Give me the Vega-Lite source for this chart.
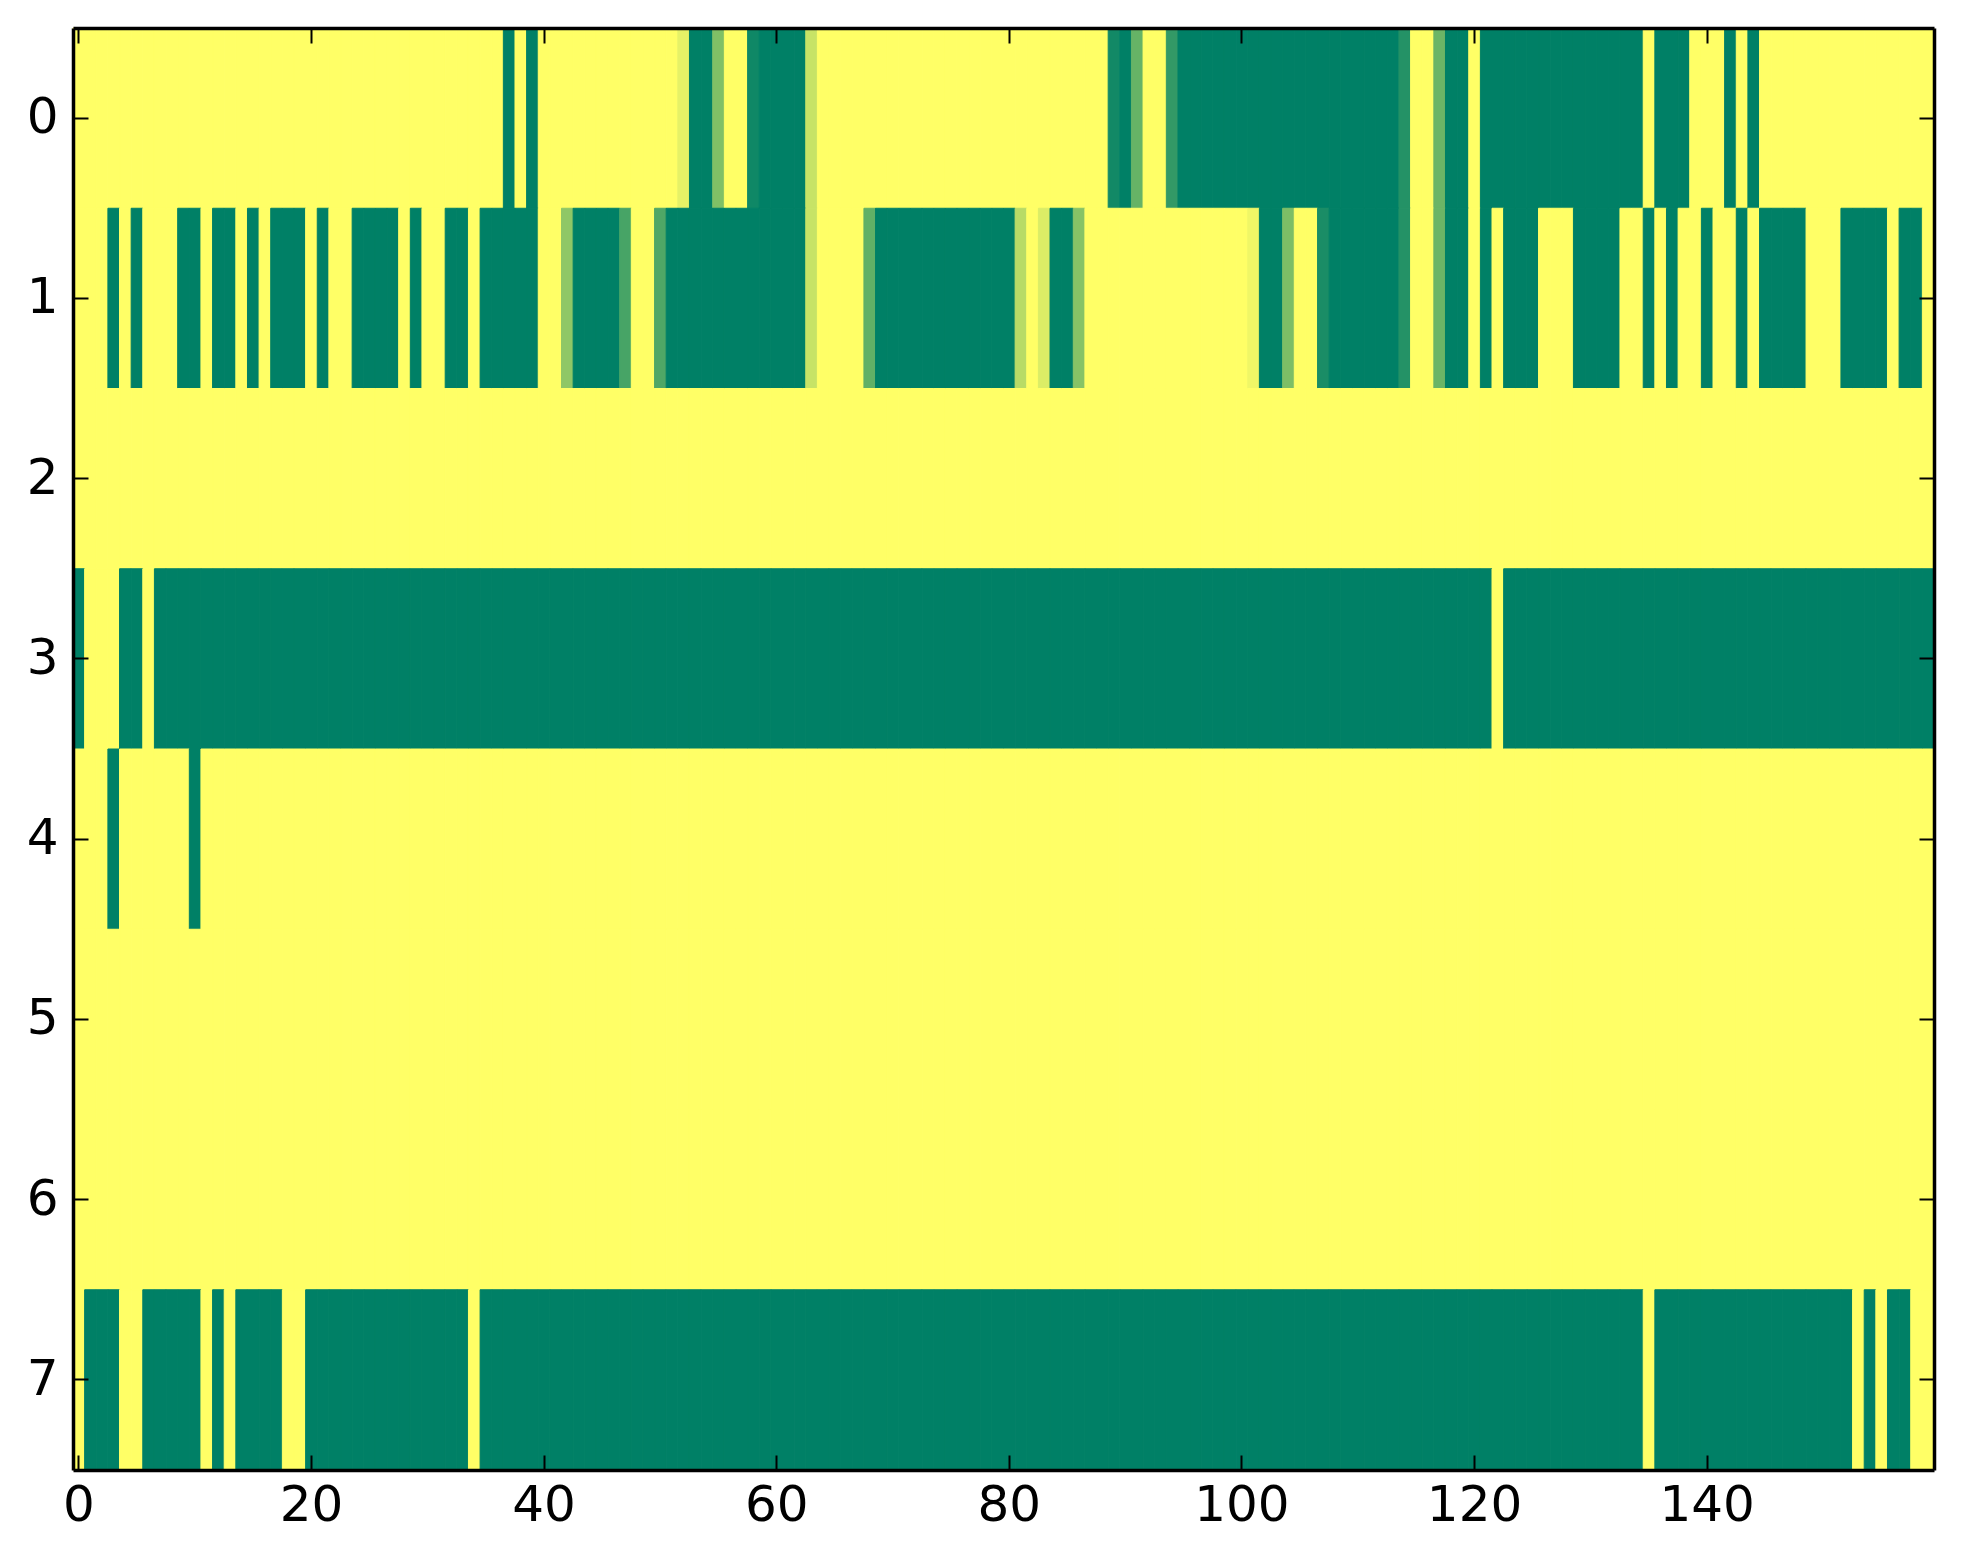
{
"$schema": "https://vega.github.io/schema/vega-lite/v6.json",
"width": 1861, "height": 1442,
"autosize": "none",
"padding": {"left": 73, "top": 28, "right": 29, "bottom": 94},
"background": "white",
"data": {"values": [
{"r":0,"c":0,"v":0},{"r":0,"c":1,"v":0},{"r":0,"c":2,"v":0},{"r":0,"c":3,"v":0},{"r":0,"c":4,"v":0},{"r":0,"c":5,"v":0},{"r":0,"c":6,"v":0},{"r":0,"c":7,"v":0},{"r":0,"c":8,"v":0},{"r":0,"c":9,"v":0},
{"r":0,"c":10,"v":0},{"r":0,"c":11,"v":0},{"r":0,"c":12,"v":0},{"r":0,"c":13,"v":0},{"r":0,"c":14,"v":0},{"r":0,"c":15,"v":0},{"r":0,"c":16,"v":0},{"r":0,"c":17,"v":0},{"r":0,"c":18,"v":0},{"r":0,"c":19,"v":0},
{"r":0,"c":20,"v":0},{"r":0,"c":21,"v":0},{"r":0,"c":22,"v":0},{"r":0,"c":23,"v":0},{"r":0,"c":24,"v":0},{"r":0,"c":25,"v":0},{"r":0,"c":26,"v":0},{"r":0,"c":27,"v":0},{"r":0,"c":28,"v":0},{"r":0,"c":29,"v":0},
{"r":0,"c":30,"v":0},{"r":0,"c":31,"v":0},{"r":0,"c":32,"v":0},{"r":0,"c":33,"v":0},{"r":0,"c":34,"v":0},{"r":0,"c":35,"v":0},{"r":0,"c":36,"v":0},{"r":0,"c":37,"v":1},{"r":0,"c":38,"v":0},{"r":0,"c":39,"v":1},
{"r":0,"c":40,"v":0},{"r":0,"c":41,"v":0},{"r":0,"c":42,"v":0},{"r":0,"c":43,"v":0},{"r":0,"c":44,"v":0},{"r":0,"c":45,"v":0},{"r":0,"c":46,"v":0},{"r":0,"c":47,"v":0},{"r":0,"c":48,"v":0},{"r":0,"c":49,"v":0},
{"r":0,"c":50,"v":0},{"r":0,"c":51,"v":0},{"r":0,"c":52,"v":0.1},{"r":0,"c":53,"v":1},{"r":0,"c":54,"v":1},{"r":0,"c":55,"v":0.5},{"r":0,"c":56,"v":0},{"r":0,"c":57,"v":0},{"r":0,"c":58,"v":0.94},{"r":0,"c":59,"v":1},
{"r":0,"c":60,"v":1},{"r":0,"c":61,"v":1},{"r":0,"c":62,"v":1},{"r":0,"c":63,"v":0.22},{"r":0,"c":64,"v":0},{"r":0,"c":65,"v":0},{"r":0,"c":66,"v":0},{"r":0,"c":67,"v":0},{"r":0,"c":68,"v":0},{"r":0,"c":69,"v":0},
{"r":0,"c":70,"v":0},{"r":0,"c":71,"v":0},{"r":0,"c":72,"v":0},{"r":0,"c":73,"v":0},{"r":0,"c":74,"v":0},{"r":0,"c":75,"v":0},{"r":0,"c":76,"v":0},{"r":0,"c":77,"v":0},{"r":0,"c":78,"v":0},{"r":0,"c":79,"v":0},
{"r":0,"c":80,"v":0},{"r":0,"c":81,"v":0},{"r":0,"c":82,"v":0},{"r":0,"c":83,"v":0},{"r":0,"c":84,"v":0},{"r":0,"c":85,"v":0},{"r":0,"c":86,"v":0},{"r":0,"c":87,"v":0},{"r":0,"c":88,"v":0},{"r":0,"c":89,"v":0.93},
{"r":0,"c":90,"v":1},{"r":0,"c":91,"v":0.6},{"r":0,"c":92,"v":0},{"r":0,"c":93,"v":0},{"r":0,"c":94,"v":0.8},{"r":0,"c":95,"v":1},{"r":0,"c":96,"v":1},{"r":0,"c":97,"v":1},{"r":0,"c":98,"v":1},{"r":0,"c":99,"v":1},
{"r":0,"c":100,"v":1},{"r":0,"c":101,"v":1},{"r":0,"c":102,"v":1},{"r":0,"c":103,"v":1},{"r":0,"c":104,"v":1},{"r":0,"c":105,"v":1},{"r":0,"c":106,"v":1},{"r":0,"c":107,"v":1},{"r":0,"c":108,"v":1},{"r":0,"c":109,"v":1},
{"r":0,"c":110,"v":1},{"r":0,"c":111,"v":1},{"r":0,"c":112,"v":1},{"r":0,"c":113,"v":1},{"r":0,"c":114,"v":0.86},{"r":0,"c":115,"v":0},{"r":0,"c":116,"v":0},{"r":0,"c":117,"v":0.58},{"r":0,"c":118,"v":1},{"r":0,"c":119,"v":1},
{"r":0,"c":120,"v":0},{"r":0,"c":121,"v":1},{"r":0,"c":122,"v":1},{"r":0,"c":123,"v":1},{"r":0,"c":124,"v":1},{"r":0,"c":125,"v":1},{"r":0,"c":126,"v":1},{"r":0,"c":127,"v":1},{"r":0,"c":128,"v":1},{"r":0,"c":129,"v":1},
{"r":0,"c":130,"v":1},{"r":0,"c":131,"v":1},{"r":0,"c":132,"v":1},{"r":0,"c":133,"v":1},{"r":0,"c":134,"v":1},{"r":0,"c":135,"v":0},{"r":0,"c":136,"v":1},{"r":0,"c":137,"v":1},{"r":0,"c":138,"v":1},{"r":0,"c":139,"v":0},
{"r":0,"c":140,"v":0},{"r":0,"c":141,"v":0},{"r":0,"c":142,"v":1},{"r":0,"c":143,"v":0},{"r":0,"c":144,"v":1},{"r":0,"c":145,"v":0},{"r":0,"c":146,"v":0},{"r":0,"c":147,"v":0},{"r":0,"c":148,"v":0},{"r":0,"c":149,"v":0},
{"r":0,"c":150,"v":0},{"r":0,"c":151,"v":0},{"r":0,"c":152,"v":0},{"r":0,"c":153,"v":0},{"r":0,"c":154,"v":0},{"r":0,"c":155,"v":0},{"r":0,"c":156,"v":0},{"r":0,"c":157,"v":0},{"r":0,"c":158,"v":0},{"r":0,"c":159,"v":0},
{"r":1,"c":0,"v":0},{"r":1,"c":1,"v":0},{"r":1,"c":2,"v":0},{"r":1,"c":3,"v":1},{"r":1,"c":4,"v":0},{"r":1,"c":5,"v":1},{"r":1,"c":6,"v":0},{"r":1,"c":7,"v":0},{"r":1,"c":8,"v":0},{"r":1,"c":9,"v":1},
{"r":1,"c":10,"v":1},{"r":1,"c":11,"v":0},{"r":1,"c":12,"v":1},{"r":1,"c":13,"v":1},{"r":1,"c":14,"v":0},{"r":1,"c":15,"v":1},{"r":1,"c":16,"v":0},{"r":1,"c":17,"v":1},{"r":1,"c":18,"v":1},{"r":1,"c":19,"v":1},
{"r":1,"c":20,"v":0},{"r":1,"c":21,"v":1},{"r":1,"c":22,"v":0},{"r":1,"c":23,"v":0},{"r":1,"c":24,"v":1},{"r":1,"c":25,"v":1},{"r":1,"c":26,"v":1},{"r":1,"c":27,"v":1},{"r":1,"c":28,"v":0},{"r":1,"c":29,"v":1},
{"r":1,"c":30,"v":0},{"r":1,"c":31,"v":0},{"r":1,"c":32,"v":1},{"r":1,"c":33,"v":1},{"r":1,"c":34,"v":0},{"r":1,"c":35,"v":1},{"r":1,"c":36,"v":1},{"r":1,"c":37,"v":1},{"r":1,"c":38,"v":1},{"r":1,"c":39,"v":1},
{"r":1,"c":40,"v":0},{"r":1,"c":41,"v":0},{"r":1,"c":42,"v":0.44},{"r":1,"c":43,"v":1},{"r":1,"c":44,"v":1},{"r":1,"c":45,"v":1},{"r":1,"c":46,"v":1},{"r":1,"c":47,"v":0.72},{"r":1,"c":48,"v":0},{"r":1,"c":49,"v":0},
{"r":1,"c":50,"v":0.69},{"r":1,"c":51,"v":1},{"r":1,"c":52,"v":1},{"r":1,"c":53,"v":1},{"r":1,"c":54,"v":1},{"r":1,"c":55,"v":1},{"r":1,"c":56,"v":1},{"r":1,"c":57,"v":1},{"r":1,"c":58,"v":1},{"r":1,"c":59,"v":1},
{"r":1,"c":60,"v":1},{"r":1,"c":61,"v":1},{"r":1,"c":62,"v":1},{"r":1,"c":63,"v":0.22},{"r":1,"c":64,"v":0},{"r":1,"c":65,"v":0},{"r":1,"c":66,"v":0},{"r":1,"c":67,"v":0},{"r":1,"c":68,"v":0.62},{"r":1,"c":69,"v":1},
{"r":1,"c":70,"v":1},{"r":1,"c":71,"v":1},{"r":1,"c":72,"v":1},{"r":1,"c":73,"v":1},{"r":1,"c":74,"v":1},{"r":1,"c":75,"v":1},{"r":1,"c":76,"v":1},{"r":1,"c":77,"v":1},{"r":1,"c":78,"v":1},{"r":1,"c":79,"v":1},
{"r":1,"c":80,"v":1},{"r":1,"c":81,"v":0.28},{"r":1,"c":82,"v":0},{"r":1,"c":83,"v":0.14},{"r":1,"c":84,"v":1},{"r":1,"c":85,"v":1},{"r":1,"c":86,"v":0.47},{"r":1,"c":87,"v":0},{"r":1,"c":88,"v":0},{"r":1,"c":89,"v":0},
{"r":1,"c":90,"v":0},{"r":1,"c":91,"v":0},{"r":1,"c":92,"v":0},{"r":1,"c":93,"v":0},{"r":1,"c":94,"v":0},{"r":1,"c":95,"v":0},{"r":1,"c":96,"v":0},{"r":1,"c":97,"v":0},{"r":1,"c":98,"v":0},{"r":1,"c":99,"v":0},
{"r":1,"c":100,"v":0},{"r":1,"c":101,"v":0.06},{"r":1,"c":102,"v":1},{"r":1,"c":103,"v":1},{"r":1,"c":104,"v":0.51},{"r":1,"c":105,"v":0},{"r":1,"c":106,"v":0},{"r":1,"c":107,"v":0.9},{"r":1,"c":108,"v":1},{"r":1,"c":109,"v":1},
{"r":1,"c":110,"v":1},{"r":1,"c":111,"v":1},{"r":1,"c":112,"v":1},{"r":1,"c":113,"v":1},{"r":1,"c":114,"v":0.86},{"r":1,"c":115,"v":0},{"r":1,"c":116,"v":0},{"r":1,"c":117,"v":0.58},{"r":1,"c":118,"v":1},{"r":1,"c":119,"v":1},
{"r":1,"c":120,"v":0},{"r":1,"c":121,"v":1},{"r":1,"c":122,"v":0},{"r":1,"c":123,"v":1},{"r":1,"c":124,"v":1},{"r":1,"c":125,"v":1},{"r":1,"c":126,"v":0},{"r":1,"c":127,"v":0},{"r":1,"c":128,"v":0},{"r":1,"c":129,"v":1},
{"r":1,"c":130,"v":1},{"r":1,"c":131,"v":1},{"r":1,"c":132,"v":1},{"r":1,"c":133,"v":0},{"r":1,"c":134,"v":0},{"r":1,"c":135,"v":1},{"r":1,"c":136,"v":0},{"r":1,"c":137,"v":1},{"r":1,"c":138,"v":0},{"r":1,"c":139,"v":0},
{"r":1,"c":140,"v":1},{"r":1,"c":141,"v":0},{"r":1,"c":142,"v":0},{"r":1,"c":143,"v":1},{"r":1,"c":144,"v":0},{"r":1,"c":145,"v":1},{"r":1,"c":146,"v":1},{"r":1,"c":147,"v":1},{"r":1,"c":148,"v":1},{"r":1,"c":149,"v":0},
{"r":1,"c":150,"v":0},{"r":1,"c":151,"v":0},{"r":1,"c":152,"v":1},{"r":1,"c":153,"v":1},{"r":1,"c":154,"v":1},{"r":1,"c":155,"v":1},{"r":1,"c":156,"v":0},{"r":1,"c":157,"v":1},{"r":1,"c":158,"v":1},{"r":1,"c":159,"v":0},
{"r":2,"c":0,"v":0},{"r":2,"c":1,"v":0},{"r":2,"c":2,"v":0},{"r":2,"c":3,"v":0},{"r":2,"c":4,"v":0},{"r":2,"c":5,"v":0},{"r":2,"c":6,"v":0},{"r":2,"c":7,"v":0},{"r":2,"c":8,"v":0},{"r":2,"c":9,"v":0},
{"r":2,"c":10,"v":0},{"r":2,"c":11,"v":0},{"r":2,"c":12,"v":0},{"r":2,"c":13,"v":0},{"r":2,"c":14,"v":0},{"r":2,"c":15,"v":0},{"r":2,"c":16,"v":0},{"r":2,"c":17,"v":0},{"r":2,"c":18,"v":0},{"r":2,"c":19,"v":0},
{"r":2,"c":20,"v":0},{"r":2,"c":21,"v":0},{"r":2,"c":22,"v":0},{"r":2,"c":23,"v":0},{"r":2,"c":24,"v":0},{"r":2,"c":25,"v":0},{"r":2,"c":26,"v":0},{"r":2,"c":27,"v":0},{"r":2,"c":28,"v":0},{"r":2,"c":29,"v":0},
{"r":2,"c":30,"v":0},{"r":2,"c":31,"v":0},{"r":2,"c":32,"v":0},{"r":2,"c":33,"v":0},{"r":2,"c":34,"v":0},{"r":2,"c":35,"v":0},{"r":2,"c":36,"v":0},{"r":2,"c":37,"v":0},{"r":2,"c":38,"v":0},{"r":2,"c":39,"v":0},
{"r":2,"c":40,"v":0},{"r":2,"c":41,"v":0},{"r":2,"c":42,"v":0},{"r":2,"c":43,"v":0},{"r":2,"c":44,"v":0},{"r":2,"c":45,"v":0},{"r":2,"c":46,"v":0},{"r":2,"c":47,"v":0},{"r":2,"c":48,"v":0},{"r":2,"c":49,"v":0},
{"r":2,"c":50,"v":0},{"r":2,"c":51,"v":0},{"r":2,"c":52,"v":0},{"r":2,"c":53,"v":0},{"r":2,"c":54,"v":0},{"r":2,"c":55,"v":0},{"r":2,"c":56,"v":0},{"r":2,"c":57,"v":0},{"r":2,"c":58,"v":0},{"r":2,"c":59,"v":0},
{"r":2,"c":60,"v":0},{"r":2,"c":61,"v":0},{"r":2,"c":62,"v":0},{"r":2,"c":63,"v":0},{"r":2,"c":64,"v":0},{"r":2,"c":65,"v":0},{"r":2,"c":66,"v":0},{"r":2,"c":67,"v":0},{"r":2,"c":68,"v":0},{"r":2,"c":69,"v":0},
{"r":2,"c":70,"v":0},{"r":2,"c":71,"v":0},{"r":2,"c":72,"v":0},{"r":2,"c":73,"v":0},{"r":2,"c":74,"v":0},{"r":2,"c":75,"v":0},{"r":2,"c":76,"v":0},{"r":2,"c":77,"v":0},{"r":2,"c":78,"v":0},{"r":2,"c":79,"v":0},
{"r":2,"c":80,"v":0},{"r":2,"c":81,"v":0},{"r":2,"c":82,"v":0},{"r":2,"c":83,"v":0},{"r":2,"c":84,"v":0},{"r":2,"c":85,"v":0},{"r":2,"c":86,"v":0},{"r":2,"c":87,"v":0},{"r":2,"c":88,"v":0},{"r":2,"c":89,"v":0},
{"r":2,"c":90,"v":0},{"r":2,"c":91,"v":0},{"r":2,"c":92,"v":0},{"r":2,"c":93,"v":0},{"r":2,"c":94,"v":0},{"r":2,"c":95,"v":0},{"r":2,"c":96,"v":0},{"r":2,"c":97,"v":0},{"r":2,"c":98,"v":0},{"r":2,"c":99,"v":0},
{"r":2,"c":100,"v":0},{"r":2,"c":101,"v":0},{"r":2,"c":102,"v":0},{"r":2,"c":103,"v":0},{"r":2,"c":104,"v":0},{"r":2,"c":105,"v":0},{"r":2,"c":106,"v":0},{"r":2,"c":107,"v":0},{"r":2,"c":108,"v":0},{"r":2,"c":109,"v":0},
{"r":2,"c":110,"v":0},{"r":2,"c":111,"v":0},{"r":2,"c":112,"v":0},{"r":2,"c":113,"v":0},{"r":2,"c":114,"v":0},{"r":2,"c":115,"v":0},{"r":2,"c":116,"v":0},{"r":2,"c":117,"v":0},{"r":2,"c":118,"v":0},{"r":2,"c":119,"v":0},
{"r":2,"c":120,"v":0},{"r":2,"c":121,"v":0},{"r":2,"c":122,"v":0},{"r":2,"c":123,"v":0},{"r":2,"c":124,"v":0},{"r":2,"c":125,"v":0},{"r":2,"c":126,"v":0},{"r":2,"c":127,"v":0},{"r":2,"c":128,"v":0},{"r":2,"c":129,"v":0},
{"r":2,"c":130,"v":0},{"r":2,"c":131,"v":0},{"r":2,"c":132,"v":0},{"r":2,"c":133,"v":0},{"r":2,"c":134,"v":0},{"r":2,"c":135,"v":0},{"r":2,"c":136,"v":0},{"r":2,"c":137,"v":0},{"r":2,"c":138,"v":0},{"r":2,"c":139,"v":0},
{"r":2,"c":140,"v":0},{"r":2,"c":141,"v":0},{"r":2,"c":142,"v":0},{"r":2,"c":143,"v":0},{"r":2,"c":144,"v":0},{"r":2,"c":145,"v":0},{"r":2,"c":146,"v":0},{"r":2,"c":147,"v":0},{"r":2,"c":148,"v":0},{"r":2,"c":149,"v":0},
{"r":2,"c":150,"v":0},{"r":2,"c":151,"v":0},{"r":2,"c":152,"v":0},{"r":2,"c":153,"v":0},{"r":2,"c":154,"v":0},{"r":2,"c":155,"v":0},{"r":2,"c":156,"v":0},{"r":2,"c":157,"v":0},{"r":2,"c":158,"v":0},{"r":2,"c":159,"v":0},
{"r":3,"c":0,"v":1},{"r":3,"c":1,"v":0},{"r":3,"c":2,"v":0},{"r":3,"c":3,"v":0},{"r":3,"c":4,"v":1},{"r":3,"c":5,"v":1},{"r":3,"c":6,"v":0},{"r":3,"c":7,"v":1},{"r":3,"c":8,"v":1},{"r":3,"c":9,"v":1},
{"r":3,"c":10,"v":1},{"r":3,"c":11,"v":1},{"r":3,"c":12,"v":1},{"r":3,"c":13,"v":1},{"r":3,"c":14,"v":1},{"r":3,"c":15,"v":1},{"r":3,"c":16,"v":1},{"r":3,"c":17,"v":1},{"r":3,"c":18,"v":1},{"r":3,"c":19,"v":1},
{"r":3,"c":20,"v":1},{"r":3,"c":21,"v":1},{"r":3,"c":22,"v":1},{"r":3,"c":23,"v":1},{"r":3,"c":24,"v":1},{"r":3,"c":25,"v":1},{"r":3,"c":26,"v":1},{"r":3,"c":27,"v":1},{"r":3,"c":28,"v":1},{"r":3,"c":29,"v":1},
{"r":3,"c":30,"v":1},{"r":3,"c":31,"v":1},{"r":3,"c":32,"v":1},{"r":3,"c":33,"v":1},{"r":3,"c":34,"v":1},{"r":3,"c":35,"v":1},{"r":3,"c":36,"v":1},{"r":3,"c":37,"v":1},{"r":3,"c":38,"v":1},{"r":3,"c":39,"v":1},
{"r":3,"c":40,"v":1},{"r":3,"c":41,"v":1},{"r":3,"c":42,"v":1},{"r":3,"c":43,"v":1},{"r":3,"c":44,"v":1},{"r":3,"c":45,"v":1},{"r":3,"c":46,"v":1},{"r":3,"c":47,"v":1},{"r":3,"c":48,"v":1},{"r":3,"c":49,"v":1},
{"r":3,"c":50,"v":1},{"r":3,"c":51,"v":1},{"r":3,"c":52,"v":1},{"r":3,"c":53,"v":1},{"r":3,"c":54,"v":1},{"r":3,"c":55,"v":1},{"r":3,"c":56,"v":1},{"r":3,"c":57,"v":1},{"r":3,"c":58,"v":1},{"r":3,"c":59,"v":1},
{"r":3,"c":60,"v":1},{"r":3,"c":61,"v":1},{"r":3,"c":62,"v":1},{"r":3,"c":63,"v":1},{"r":3,"c":64,"v":1},{"r":3,"c":65,"v":1},{"r":3,"c":66,"v":1},{"r":3,"c":67,"v":1},{"r":3,"c":68,"v":1},{"r":3,"c":69,"v":1},
{"r":3,"c":70,"v":1},{"r":3,"c":71,"v":1},{"r":3,"c":72,"v":1},{"r":3,"c":73,"v":1},{"r":3,"c":74,"v":1},{"r":3,"c":75,"v":1},{"r":3,"c":76,"v":1},{"r":3,"c":77,"v":1},{"r":3,"c":78,"v":1},{"r":3,"c":79,"v":1},
{"r":3,"c":80,"v":1},{"r":3,"c":81,"v":1},{"r":3,"c":82,"v":1},{"r":3,"c":83,"v":1},{"r":3,"c":84,"v":1},{"r":3,"c":85,"v":1},{"r":3,"c":86,"v":1},{"r":3,"c":87,"v":1},{"r":3,"c":88,"v":1},{"r":3,"c":89,"v":1},
{"r":3,"c":90,"v":1},{"r":3,"c":91,"v":1},{"r":3,"c":92,"v":1},{"r":3,"c":93,"v":1},{"r":3,"c":94,"v":1},{"r":3,"c":95,"v":1},{"r":3,"c":96,"v":1},{"r":3,"c":97,"v":1},{"r":3,"c":98,"v":1},{"r":3,"c":99,"v":1},
{"r":3,"c":100,"v":1},{"r":3,"c":101,"v":1},{"r":3,"c":102,"v":1},{"r":3,"c":103,"v":1},{"r":3,"c":104,"v":1},{"r":3,"c":105,"v":1},{"r":3,"c":106,"v":1},{"r":3,"c":107,"v":1},{"r":3,"c":108,"v":1},{"r":3,"c":109,"v":1},
{"r":3,"c":110,"v":1},{"r":3,"c":111,"v":1},{"r":3,"c":112,"v":1},{"r":3,"c":113,"v":1},{"r":3,"c":114,"v":1},{"r":3,"c":115,"v":1},{"r":3,"c":116,"v":1},{"r":3,"c":117,"v":1},{"r":3,"c":118,"v":1},{"r":3,"c":119,"v":1},
{"r":3,"c":120,"v":1},{"r":3,"c":121,"v":1},{"r":3,"c":122,"v":0},{"r":3,"c":123,"v":1},{"r":3,"c":124,"v":1},{"r":3,"c":125,"v":1},{"r":3,"c":126,"v":1},{"r":3,"c":127,"v":1},{"r":3,"c":128,"v":1},{"r":3,"c":129,"v":1},
{"r":3,"c":130,"v":1},{"r":3,"c":131,"v":1},{"r":3,"c":132,"v":1},{"r":3,"c":133,"v":1},{"r":3,"c":134,"v":1},{"r":3,"c":135,"v":1},{"r":3,"c":136,"v":1},{"r":3,"c":137,"v":1},{"r":3,"c":138,"v":1},{"r":3,"c":139,"v":1},
{"r":3,"c":140,"v":1},{"r":3,"c":141,"v":1},{"r":3,"c":142,"v":1},{"r":3,"c":143,"v":1},{"r":3,"c":144,"v":1},{"r":3,"c":145,"v":1},{"r":3,"c":146,"v":1},{"r":3,"c":147,"v":1},{"r":3,"c":148,"v":1},{"r":3,"c":149,"v":1},
{"r":3,"c":150,"v":1},{"r":3,"c":151,"v":1},{"r":3,"c":152,"v":1},{"r":3,"c":153,"v":1},{"r":3,"c":154,"v":1},{"r":3,"c":155,"v":1},{"r":3,"c":156,"v":1},{"r":3,"c":157,"v":1},{"r":3,"c":158,"v":1},{"r":3,"c":159,"v":1},
{"r":4,"c":0,"v":0},{"r":4,"c":1,"v":0},{"r":4,"c":2,"v":0},{"r":4,"c":3,"v":1},{"r":4,"c":4,"v":0},{"r":4,"c":5,"v":0},{"r":4,"c":6,"v":0},{"r":4,"c":7,"v":0},{"r":4,"c":8,"v":0},{"r":4,"c":9,"v":0},
{"r":4,"c":10,"v":1},{"r":4,"c":11,"v":0},{"r":4,"c":12,"v":0},{"r":4,"c":13,"v":0},{"r":4,"c":14,"v":0},{"r":4,"c":15,"v":0},{"r":4,"c":16,"v":0},{"r":4,"c":17,"v":0},{"r":4,"c":18,"v":0},{"r":4,"c":19,"v":0},
{"r":4,"c":20,"v":0},{"r":4,"c":21,"v":0},{"r":4,"c":22,"v":0},{"r":4,"c":23,"v":0},{"r":4,"c":24,"v":0},{"r":4,"c":25,"v":0},{"r":4,"c":26,"v":0},{"r":4,"c":27,"v":0},{"r":4,"c":28,"v":0},{"r":4,"c":29,"v":0},
{"r":4,"c":30,"v":0},{"r":4,"c":31,"v":0},{"r":4,"c":32,"v":0},{"r":4,"c":33,"v":0},{"r":4,"c":34,"v":0},{"r":4,"c":35,"v":0},{"r":4,"c":36,"v":0},{"r":4,"c":37,"v":0},{"r":4,"c":38,"v":0},{"r":4,"c":39,"v":0},
{"r":4,"c":40,"v":0},{"r":4,"c":41,"v":0},{"r":4,"c":42,"v":0},{"r":4,"c":43,"v":0},{"r":4,"c":44,"v":0},{"r":4,"c":45,"v":0},{"r":4,"c":46,"v":0},{"r":4,"c":47,"v":0},{"r":4,"c":48,"v":0},{"r":4,"c":49,"v":0},
{"r":4,"c":50,"v":0},{"r":4,"c":51,"v":0},{"r":4,"c":52,"v":0},{"r":4,"c":53,"v":0},{"r":4,"c":54,"v":0},{"r":4,"c":55,"v":0},{"r":4,"c":56,"v":0},{"r":4,"c":57,"v":0},{"r":4,"c":58,"v":0},{"r":4,"c":59,"v":0},
{"r":4,"c":60,"v":0},{"r":4,"c":61,"v":0},{"r":4,"c":62,"v":0},{"r":4,"c":63,"v":0},{"r":4,"c":64,"v":0},{"r":4,"c":65,"v":0},{"r":4,"c":66,"v":0},{"r":4,"c":67,"v":0},{"r":4,"c":68,"v":0},{"r":4,"c":69,"v":0},
{"r":4,"c":70,"v":0},{"r":4,"c":71,"v":0},{"r":4,"c":72,"v":0},{"r":4,"c":73,"v":0},{"r":4,"c":74,"v":0},{"r":4,"c":75,"v":0},{"r":4,"c":76,"v":0},{"r":4,"c":77,"v":0},{"r":4,"c":78,"v":0},{"r":4,"c":79,"v":0},
{"r":4,"c":80,"v":0},{"r":4,"c":81,"v":0},{"r":4,"c":82,"v":0},{"r":4,"c":83,"v":0},{"r":4,"c":84,"v":0},{"r":4,"c":85,"v":0},{"r":4,"c":86,"v":0},{"r":4,"c":87,"v":0},{"r":4,"c":88,"v":0},{"r":4,"c":89,"v":0},
{"r":4,"c":90,"v":0},{"r":4,"c":91,"v":0},{"r":4,"c":92,"v":0},{"r":4,"c":93,"v":0},{"r":4,"c":94,"v":0},{"r":4,"c":95,"v":0},{"r":4,"c":96,"v":0},{"r":4,"c":97,"v":0},{"r":4,"c":98,"v":0},{"r":4,"c":99,"v":0},
{"r":4,"c":100,"v":0},{"r":4,"c":101,"v":0},{"r":4,"c":102,"v":0},{"r":4,"c":103,"v":0},{"r":4,"c":104,"v":0},{"r":4,"c":105,"v":0},{"r":4,"c":106,"v":0},{"r":4,"c":107,"v":0},{"r":4,"c":108,"v":0},{"r":4,"c":109,"v":0},
{"r":4,"c":110,"v":0},{"r":4,"c":111,"v":0},{"r":4,"c":112,"v":0},{"r":4,"c":113,"v":0},{"r":4,"c":114,"v":0},{"r":4,"c":115,"v":0},{"r":4,"c":116,"v":0},{"r":4,"c":117,"v":0},{"r":4,"c":118,"v":0},{"r":4,"c":119,"v":0},
{"r":4,"c":120,"v":0},{"r":4,"c":121,"v":0},{"r":4,"c":122,"v":0},{"r":4,"c":123,"v":0},{"r":4,"c":124,"v":0},{"r":4,"c":125,"v":0},{"r":4,"c":126,"v":0},{"r":4,"c":127,"v":0},{"r":4,"c":128,"v":0},{"r":4,"c":129,"v":0},
{"r":4,"c":130,"v":0},{"r":4,"c":131,"v":0},{"r":4,"c":132,"v":0},{"r":4,"c":133,"v":0},{"r":4,"c":134,"v":0},{"r":4,"c":135,"v":0},{"r":4,"c":136,"v":0},{"r":4,"c":137,"v":0},{"r":4,"c":138,"v":0},{"r":4,"c":139,"v":0},
{"r":4,"c":140,"v":0},{"r":4,"c":141,"v":0},{"r":4,"c":142,"v":0},{"r":4,"c":143,"v":0},{"r":4,"c":144,"v":0},{"r":4,"c":145,"v":0},{"r":4,"c":146,"v":0},{"r":4,"c":147,"v":0},{"r":4,"c":148,"v":0},{"r":4,"c":149,"v":0},
{"r":4,"c":150,"v":0},{"r":4,"c":151,"v":0},{"r":4,"c":152,"v":0},{"r":4,"c":153,"v":0},{"r":4,"c":154,"v":0},{"r":4,"c":155,"v":0},{"r":4,"c":156,"v":0},{"r":4,"c":157,"v":0},{"r":4,"c":158,"v":0},{"r":4,"c":159,"v":0},
{"r":5,"c":0,"v":0},{"r":5,"c":1,"v":0},{"r":5,"c":2,"v":0},{"r":5,"c":3,"v":0},{"r":5,"c":4,"v":0},{"r":5,"c":5,"v":0},{"r":5,"c":6,"v":0},{"r":5,"c":7,"v":0},{"r":5,"c":8,"v":0},{"r":5,"c":9,"v":0},
{"r":5,"c":10,"v":0},{"r":5,"c":11,"v":0},{"r":5,"c":12,"v":0},{"r":5,"c":13,"v":0},{"r":5,"c":14,"v":0},{"r":5,"c":15,"v":0},{"r":5,"c":16,"v":0},{"r":5,"c":17,"v":0},{"r":5,"c":18,"v":0},{"r":5,"c":19,"v":0},
{"r":5,"c":20,"v":0},{"r":5,"c":21,"v":0},{"r":5,"c":22,"v":0},{"r":5,"c":23,"v":0},{"r":5,"c":24,"v":0},{"r":5,"c":25,"v":0},{"r":5,"c":26,"v":0},{"r":5,"c":27,"v":0},{"r":5,"c":28,"v":0},{"r":5,"c":29,"v":0},
{"r":5,"c":30,"v":0},{"r":5,"c":31,"v":0},{"r":5,"c":32,"v":0},{"r":5,"c":33,"v":0},{"r":5,"c":34,"v":0},{"r":5,"c":35,"v":0},{"r":5,"c":36,"v":0},{"r":5,"c":37,"v":0},{"r":5,"c":38,"v":0},{"r":5,"c":39,"v":0},
{"r":5,"c":40,"v":0},{"r":5,"c":41,"v":0},{"r":5,"c":42,"v":0},{"r":5,"c":43,"v":0},{"r":5,"c":44,"v":0},{"r":5,"c":45,"v":0},{"r":5,"c":46,"v":0},{"r":5,"c":47,"v":0},{"r":5,"c":48,"v":0},{"r":5,"c":49,"v":0},
{"r":5,"c":50,"v":0},{"r":5,"c":51,"v":0},{"r":5,"c":52,"v":0},{"r":5,"c":53,"v":0},{"r":5,"c":54,"v":0},{"r":5,"c":55,"v":0},{"r":5,"c":56,"v":0},{"r":5,"c":57,"v":0},{"r":5,"c":58,"v":0},{"r":5,"c":59,"v":0},
{"r":5,"c":60,"v":0},{"r":5,"c":61,"v":0},{"r":5,"c":62,"v":0},{"r":5,"c":63,"v":0},{"r":5,"c":64,"v":0},{"r":5,"c":65,"v":0},{"r":5,"c":66,"v":0},{"r":5,"c":67,"v":0},{"r":5,"c":68,"v":0},{"r":5,"c":69,"v":0},
{"r":5,"c":70,"v":0},{"r":5,"c":71,"v":0},{"r":5,"c":72,"v":0},{"r":5,"c":73,"v":0},{"r":5,"c":74,"v":0},{"r":5,"c":75,"v":0},{"r":5,"c":76,"v":0},{"r":5,"c":77,"v":0},{"r":5,"c":78,"v":0},{"r":5,"c":79,"v":0},
{"r":5,"c":80,"v":0},{"r":5,"c":81,"v":0},{"r":5,"c":82,"v":0},{"r":5,"c":83,"v":0},{"r":5,"c":84,"v":0},{"r":5,"c":85,"v":0},{"r":5,"c":86,"v":0},{"r":5,"c":87,"v":0},{"r":5,"c":88,"v":0},{"r":5,"c":89,"v":0},
{"r":5,"c":90,"v":0},{"r":5,"c":91,"v":0},{"r":5,"c":92,"v":0},{"r":5,"c":93,"v":0},{"r":5,"c":94,"v":0},{"r":5,"c":95,"v":0},{"r":5,"c":96,"v":0},{"r":5,"c":97,"v":0},{"r":5,"c":98,"v":0},{"r":5,"c":99,"v":0},
{"r":5,"c":100,"v":0},{"r":5,"c":101,"v":0},{"r":5,"c":102,"v":0},{"r":5,"c":103,"v":0},{"r":5,"c":104,"v":0},{"r":5,"c":105,"v":0},{"r":5,"c":106,"v":0},{"r":5,"c":107,"v":0},{"r":5,"c":108,"v":0},{"r":5,"c":109,"v":0},
{"r":5,"c":110,"v":0},{"r":5,"c":111,"v":0},{"r":5,"c":112,"v":0},{"r":5,"c":113,"v":0},{"r":5,"c":114,"v":0},{"r":5,"c":115,"v":0},{"r":5,"c":116,"v":0},{"r":5,"c":117,"v":0},{"r":5,"c":118,"v":0},{"r":5,"c":119,"v":0},
{"r":5,"c":120,"v":0},{"r":5,"c":121,"v":0},{"r":5,"c":122,"v":0},{"r":5,"c":123,"v":0},{"r":5,"c":124,"v":0},{"r":5,"c":125,"v":0},{"r":5,"c":126,"v":0},{"r":5,"c":127,"v":0},{"r":5,"c":128,"v":0},{"r":5,"c":129,"v":0},
{"r":5,"c":130,"v":0},{"r":5,"c":131,"v":0},{"r":5,"c":132,"v":0},{"r":5,"c":133,"v":0},{"r":5,"c":134,"v":0},{"r":5,"c":135,"v":0},{"r":5,"c":136,"v":0},{"r":5,"c":137,"v":0},{"r":5,"c":138,"v":0},{"r":5,"c":139,"v":0},
{"r":5,"c":140,"v":0},{"r":5,"c":141,"v":0},{"r":5,"c":142,"v":0},{"r":5,"c":143,"v":0},{"r":5,"c":144,"v":0},{"r":5,"c":145,"v":0},{"r":5,"c":146,"v":0},{"r":5,"c":147,"v":0},{"r":5,"c":148,"v":0},{"r":5,"c":149,"v":0},
{"r":5,"c":150,"v":0},{"r":5,"c":151,"v":0},{"r":5,"c":152,"v":0},{"r":5,"c":153,"v":0},{"r":5,"c":154,"v":0},{"r":5,"c":155,"v":0},{"r":5,"c":156,"v":0},{"r":5,"c":157,"v":0},{"r":5,"c":158,"v":0},{"r":5,"c":159,"v":0},
{"r":6,"c":0,"v":0},{"r":6,"c":1,"v":0},{"r":6,"c":2,"v":0},{"r":6,"c":3,"v":0},{"r":6,"c":4,"v":0},{"r":6,"c":5,"v":0},{"r":6,"c":6,"v":0},{"r":6,"c":7,"v":0},{"r":6,"c":8,"v":0},{"r":6,"c":9,"v":0},
{"r":6,"c":10,"v":0},{"r":6,"c":11,"v":0},{"r":6,"c":12,"v":0},{"r":6,"c":13,"v":0},{"r":6,"c":14,"v":0},{"r":6,"c":15,"v":0},{"r":6,"c":16,"v":0},{"r":6,"c":17,"v":0},{"r":6,"c":18,"v":0},{"r":6,"c":19,"v":0},
{"r":6,"c":20,"v":0},{"r":6,"c":21,"v":0},{"r":6,"c":22,"v":0},{"r":6,"c":23,"v":0},{"r":6,"c":24,"v":0},{"r":6,"c":25,"v":0},{"r":6,"c":26,"v":0},{"r":6,"c":27,"v":0},{"r":6,"c":28,"v":0},{"r":6,"c":29,"v":0},
{"r":6,"c":30,"v":0},{"r":6,"c":31,"v":0},{"r":6,"c":32,"v":0},{"r":6,"c":33,"v":0},{"r":6,"c":34,"v":0},{"r":6,"c":35,"v":0},{"r":6,"c":36,"v":0},{"r":6,"c":37,"v":0},{"r":6,"c":38,"v":0},{"r":6,"c":39,"v":0},
{"r":6,"c":40,"v":0},{"r":6,"c":41,"v":0},{"r":6,"c":42,"v":0},{"r":6,"c":43,"v":0},{"r":6,"c":44,"v":0},{"r":6,"c":45,"v":0},{"r":6,"c":46,"v":0},{"r":6,"c":47,"v":0},{"r":6,"c":48,"v":0},{"r":6,"c":49,"v":0},
{"r":6,"c":50,"v":0},{"r":6,"c":51,"v":0},{"r":6,"c":52,"v":0},{"r":6,"c":53,"v":0},{"r":6,"c":54,"v":0},{"r":6,"c":55,"v":0},{"r":6,"c":56,"v":0},{"r":6,"c":57,"v":0},{"r":6,"c":58,"v":0},{"r":6,"c":59,"v":0},
{"r":6,"c":60,"v":0},{"r":6,"c":61,"v":0},{"r":6,"c":62,"v":0},{"r":6,"c":63,"v":0},{"r":6,"c":64,"v":0},{"r":6,"c":65,"v":0},{"r":6,"c":66,"v":0},{"r":6,"c":67,"v":0},{"r":6,"c":68,"v":0},{"r":6,"c":69,"v":0},
{"r":6,"c":70,"v":0},{"r":6,"c":71,"v":0},{"r":6,"c":72,"v":0},{"r":6,"c":73,"v":0},{"r":6,"c":74,"v":0},{"r":6,"c":75,"v":0},{"r":6,"c":76,"v":0},{"r":6,"c":77,"v":0},{"r":6,"c":78,"v":0},{"r":6,"c":79,"v":0},
{"r":6,"c":80,"v":0},{"r":6,"c":81,"v":0},{"r":6,"c":82,"v":0},{"r":6,"c":83,"v":0},{"r":6,"c":84,"v":0},{"r":6,"c":85,"v":0},{"r":6,"c":86,"v":0},{"r":6,"c":87,"v":0},{"r":6,"c":88,"v":0},{"r":6,"c":89,"v":0},
{"r":6,"c":90,"v":0},{"r":6,"c":91,"v":0},{"r":6,"c":92,"v":0},{"r":6,"c":93,"v":0},{"r":6,"c":94,"v":0},{"r":6,"c":95,"v":0},{"r":6,"c":96,"v":0},{"r":6,"c":97,"v":0},{"r":6,"c":98,"v":0},{"r":6,"c":99,"v":0},
{"r":6,"c":100,"v":0},{"r":6,"c":101,"v":0},{"r":6,"c":102,"v":0},{"r":6,"c":103,"v":0},{"r":6,"c":104,"v":0},{"r":6,"c":105,"v":0},{"r":6,"c":106,"v":0},{"r":6,"c":107,"v":0},{"r":6,"c":108,"v":0},{"r":6,"c":109,"v":0},
{"r":6,"c":110,"v":0},{"r":6,"c":111,"v":0},{"r":6,"c":112,"v":0},{"r":6,"c":113,"v":0},{"r":6,"c":114,"v":0},{"r":6,"c":115,"v":0},{"r":6,"c":116,"v":0},{"r":6,"c":117,"v":0},{"r":6,"c":118,"v":0},{"r":6,"c":119,"v":0},
{"r":6,"c":120,"v":0},{"r":6,"c":121,"v":0},{"r":6,"c":122,"v":0},{"r":6,"c":123,"v":0},{"r":6,"c":124,"v":0},{"r":6,"c":125,"v":0},{"r":6,"c":126,"v":0},{"r":6,"c":127,"v":0},{"r":6,"c":128,"v":0},{"r":6,"c":129,"v":0},
{"r":6,"c":130,"v":0},{"r":6,"c":131,"v":0},{"r":6,"c":132,"v":0},{"r":6,"c":133,"v":0},{"r":6,"c":134,"v":0},{"r":6,"c":135,"v":0},{"r":6,"c":136,"v":0},{"r":6,"c":137,"v":0},{"r":6,"c":138,"v":0},{"r":6,"c":139,"v":0},
{"r":6,"c":140,"v":0},{"r":6,"c":141,"v":0},{"r":6,"c":142,"v":0},{"r":6,"c":143,"v":0},{"r":6,"c":144,"v":0},{"r":6,"c":145,"v":0},{"r":6,"c":146,"v":0},{"r":6,"c":147,"v":0},{"r":6,"c":148,"v":0},{"r":6,"c":149,"v":0},
{"r":6,"c":150,"v":0},{"r":6,"c":151,"v":0},{"r":6,"c":152,"v":0},{"r":6,"c":153,"v":0},{"r":6,"c":154,"v":0},{"r":6,"c":155,"v":0},{"r":6,"c":156,"v":0},{"r":6,"c":157,"v":0},{"r":6,"c":158,"v":0},{"r":6,"c":159,"v":0},
{"r":7,"c":0,"v":0},{"r":7,"c":1,"v":1},{"r":7,"c":2,"v":1},{"r":7,"c":3,"v":1},{"r":7,"c":4,"v":0},{"r":7,"c":5,"v":0},{"r":7,"c":6,"v":1},{"r":7,"c":7,"v":1},{"r":7,"c":8,"v":1},{"r":7,"c":9,"v":1},
{"r":7,"c":10,"v":1},{"r":7,"c":11,"v":0},{"r":7,"c":12,"v":1},{"r":7,"c":13,"v":0},{"r":7,"c":14,"v":1},{"r":7,"c":15,"v":1},{"r":7,"c":16,"v":1},{"r":7,"c":17,"v":1},{"r":7,"c":18,"v":0},{"r":7,"c":19,"v":0},
{"r":7,"c":20,"v":1},{"r":7,"c":21,"v":1},{"r":7,"c":22,"v":1},{"r":7,"c":23,"v":1},{"r":7,"c":24,"v":1},{"r":7,"c":25,"v":1},{"r":7,"c":26,"v":1},{"r":7,"c":27,"v":1},{"r":7,"c":28,"v":1},{"r":7,"c":29,"v":1},
{"r":7,"c":30,"v":1},{"r":7,"c":31,"v":1},{"r":7,"c":32,"v":1},{"r":7,"c":33,"v":1},{"r":7,"c":34,"v":0},{"r":7,"c":35,"v":1},{"r":7,"c":36,"v":1},{"r":7,"c":37,"v":1},{"r":7,"c":38,"v":1},{"r":7,"c":39,"v":1},
{"r":7,"c":40,"v":1},{"r":7,"c":41,"v":1},{"r":7,"c":42,"v":1},{"r":7,"c":43,"v":1},{"r":7,"c":44,"v":1},{"r":7,"c":45,"v":1},{"r":7,"c":46,"v":1},{"r":7,"c":47,"v":1},{"r":7,"c":48,"v":1},{"r":7,"c":49,"v":1},
{"r":7,"c":50,"v":1},{"r":7,"c":51,"v":1},{"r":7,"c":52,"v":1},{"r":7,"c":53,"v":1},{"r":7,"c":54,"v":1},{"r":7,"c":55,"v":1},{"r":7,"c":56,"v":1},{"r":7,"c":57,"v":1},{"r":7,"c":58,"v":1},{"r":7,"c":59,"v":1},
{"r":7,"c":60,"v":1},{"r":7,"c":61,"v":1},{"r":7,"c":62,"v":1},{"r":7,"c":63,"v":1},{"r":7,"c":64,"v":1},{"r":7,"c":65,"v":1},{"r":7,"c":66,"v":1},{"r":7,"c":67,"v":1},{"r":7,"c":68,"v":1},{"r":7,"c":69,"v":1},
{"r":7,"c":70,"v":1},{"r":7,"c":71,"v":1},{"r":7,"c":72,"v":1},{"r":7,"c":73,"v":1},{"r":7,"c":74,"v":1},{"r":7,"c":75,"v":1},{"r":7,"c":76,"v":1},{"r":7,"c":77,"v":1},{"r":7,"c":78,"v":1},{"r":7,"c":79,"v":1},
{"r":7,"c":80,"v":1},{"r":7,"c":81,"v":1},{"r":7,"c":82,"v":1},{"r":7,"c":83,"v":1},{"r":7,"c":84,"v":1},{"r":7,"c":85,"v":1},{"r":7,"c":86,"v":1},{"r":7,"c":87,"v":1},{"r":7,"c":88,"v":1},{"r":7,"c":89,"v":1},
{"r":7,"c":90,"v":1},{"r":7,"c":91,"v":1},{"r":7,"c":92,"v":1},{"r":7,"c":93,"v":1},{"r":7,"c":94,"v":1},{"r":7,"c":95,"v":1},{"r":7,"c":96,"v":1},{"r":7,"c":97,"v":1},{"r":7,"c":98,"v":1},{"r":7,"c":99,"v":1},
{"r":7,"c":100,"v":1},{"r":7,"c":101,"v":1},{"r":7,"c":102,"v":1},{"r":7,"c":103,"v":1},{"r":7,"c":104,"v":1},{"r":7,"c":105,"v":1},{"r":7,"c":106,"v":1},{"r":7,"c":107,"v":1},{"r":7,"c":108,"v":1},{"r":7,"c":109,"v":1},
{"r":7,"c":110,"v":1},{"r":7,"c":111,"v":1},{"r":7,"c":112,"v":1},{"r":7,"c":113,"v":1},{"r":7,"c":114,"v":1},{"r":7,"c":115,"v":1},{"r":7,"c":116,"v":1},{"r":7,"c":117,"v":1},{"r":7,"c":118,"v":1},{"r":7,"c":119,"v":1},
{"r":7,"c":120,"v":1},{"r":7,"c":121,"v":1},{"r":7,"c":122,"v":1},{"r":7,"c":123,"v":1},{"r":7,"c":124,"v":1},{"r":7,"c":125,"v":1},{"r":7,"c":126,"v":1},{"r":7,"c":127,"v":1},{"r":7,"c":128,"v":1},{"r":7,"c":129,"v":1},
{"r":7,"c":130,"v":1},{"r":7,"c":131,"v":1},{"r":7,"c":132,"v":1},{"r":7,"c":133,"v":1},{"r":7,"c":134,"v":1},{"r":7,"c":135,"v":0},{"r":7,"c":136,"v":1},{"r":7,"c":137,"v":1},{"r":7,"c":138,"v":1},{"r":7,"c":139,"v":1},
{"r":7,"c":140,"v":1},{"r":7,"c":141,"v":1},{"r":7,"c":142,"v":1},{"r":7,"c":143,"v":1},{"r":7,"c":144,"v":1},{"r":7,"c":145,"v":1},{"r":7,"c":146,"v":1},{"r":7,"c":147,"v":1},{"r":7,"c":148,"v":1},{"r":7,"c":149,"v":1},
{"r":7,"c":150,"v":1},{"r":7,"c":151,"v":1},{"r":7,"c":152,"v":1},{"r":7,"c":153,"v":0},{"r":7,"c":154,"v":1},{"r":7,"c":155,"v":0},{"r":7,"c":156,"v":1},{"r":7,"c":157,"v":1},{"r":7,"c":158,"v":0},{"r":7,"c":159,"v":0}
]},
"layer": [
 {
  "mark": {"type": "rect", "strokeWidth": 1},
  "encoding": {
   "x": {"field": "c", "type": "ordinal", "scale": {"paddingInner": 0, "paddingOuter": 0},
         "axis": {"orient": "bottom", "values": [0,20,40,60,80,100,120,140], "labelAngle": 0, "title": null, "zindex": 1, "labelPadding": 25}},
   "y": {"field": "r", "type": "ordinal", "scale": {"paddingInner": 0, "paddingOuter": 0},
         "axis": {"orient": "left", "title": null, "zindex": 1, "labelPadding": 30}},
   "fill": {"field": "v", "type": "quantitative", "scale": {"domain": [0, 1], "range": ["#ffff66", "#008066"], "interpolate": "rgb"}, "legend": null},
   "stroke": {"field": "v", "type": "quantitative", "scale": {"domain": [0, 1], "range": ["#ffff66", "#008066"], "interpolate": "rgb"}, "legend": null}
  }
 },
 {
  "mark": {"type": "rect", "opacity": 0},
  "encoding": {
   "x": {"field": "c", "type": "ordinal",
         "axis": {"orient": "top", "values": [0,20,40,60,80,100,120,140], "labels": false, "title": null, "zindex": 1}},
   "y": {"field": "r", "type": "ordinal",
         "axis": {"orient": "right", "labels": false, "title": null, "zindex": 1}}
  }
 }
],
"resolve": {"axis": {"x": "independent", "y": "independent"}},
"config": {
 "view": {"stroke": null},
 "axis": {
  "grid": false, "domain": true, "domainColor": "black", "domainWidth": 3.5,
  "ticks": true, "tickColor": "black", "tickWidth": 2, "tickSize": -15,
  "labelFont": "DejaVu Sans", "labelFontSize": 50, "labelColor": "black"
 }
}
}
